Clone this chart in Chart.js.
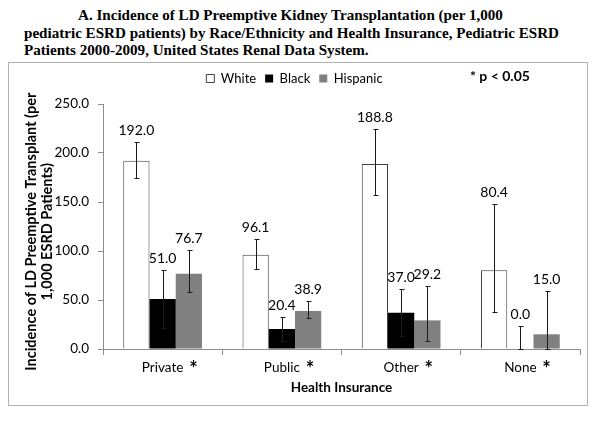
<!DOCTYPE html>
<html>
<head>
<meta charset="utf-8">
<script src="https://cdn.jsdelivr.net/npm/chart.js@4.4.1/dist/chart.umd.min.js"></script>
<style>
    body { margin: 0; background: #fff; width: 600px; height: 424px; position: relative; overflow: hidden; }
    #title { position: absolute; left: 24px; top: 7px; font: bold 15.1px "Liberation Serif", serif; line-height: 17.5px; white-space: nowrap; color: #000; }
    #title .first { padding-left: 54px; }
    #box { position: absolute; left: 8px; top: 62px; width: 578px; height: 342px; border: 1px solid #b3b3b3; }
    #myChart { position: absolute; left: 0; top: 0; }
</style>
</head>
<body>
<div id="title">
    <div class="first">A. Incidence of LD Preemptive Kidney Transplantation (per 1,000</div>
    <div>pediatric ESRD patients) by Race/Ethnicity and Health Insurance, Pediatric ESRD</div>
    <div>Patients 2000-2009, United States Renal Data System.</div>
</div>
<div id="box"><canvas id="myChart" width="578" height="342"></canvas></div>

<script>
// data
var categories = ['Private', 'Public', 'Other', 'None'];
var significant = [true, true, true, true];   // "*" after the label

var white = [192.0, 96.1, 188.8, 80.4];
var black = [51.0, 20.4, 37.0, 0.0];
var hispanic = [76.7, 38.9, 29.2, 15.0];

// 95% CI ends
var whiteLow = [174.4, 81.3, 156.9, 37.4];
var whiteHigh = [211.2, 112.6, 225.0, 147.5];
var blackLow = [21.0, 8.0, 13.0, 0.0];
var blackHigh = [81.0, 32.7, 61.0, 23.0];
var hispanicLow = [58.0, 31.4, 8.4, 0.0];
var hispanicHigh = [100.9, 49.3, 64.4, 59.4];

var yTicks = [0, 50, 100, 150, 200, 250];

var errLow = [whiteLow, blackLow, hispanicLow];
var errHigh = [whiteHigh, blackHigh, hispanicHigh];

Chart.defaults.font.family = 'Lato';
Chart.defaults.color = '#000';

// legend a bit taller so the plot starts lower
var legendSpace = {
    id: 'legendSpace',
    beforeInit: function (chart) {
        var fit = chart.legend.fit;
        chart.legend.fit = function () {
            fit.bind(chart.legend)();
            this.height += 9;
        };
    }
};

var errorBars = {
    id: 'errorBars',
    afterDatasetsDraw: function (chart) {
        var ctx = chart.ctx;
        var y = chart.scales.y;
        ctx.save();
        ctx.strokeStyle = '#1a1a1a';
        ctx.lineWidth = 1;
        ctx.font = '14px Lato';
        ctx.fillStyle = '#000';
        ctx.textAlign = 'center';
        ctx.textBaseline = 'middle';
        chart.data.datasets.forEach(function (ds, i) {
            var meta = chart.getDatasetMeta(i);
            meta.data.forEach(function (bar, j) {
                var x = Math.round(bar.x) + 0.5;
                var hi = Math.round(y.getPixelForValue(errHigh[i][j])) + 0.5;
                var lo = Math.round(y.getPixelForValue(errLow[i][j])) + 0.5;
                ctx.beginPath();
                ctx.moveTo(x, hi); ctx.lineTo(x, lo);
                ctx.moveTo(x - 2, hi); ctx.lineTo(x + 3, hi);
                ctx.moveTo(x - 2, lo); ctx.lineTo(x + 3, lo);
                ctx.stroke();
                ctx.fillText(ds.data[j].toFixed(1), bar.x, hi - 12);
            });
        });
        ctx.restore();
    }
};

var stars = {
    id: 'stars',
    afterDraw: function (chart) {
        var ctx = chart.ctx;
        var xs = chart.scales.x;
        var axisY = chart.chartArea.bottom;
        ctx.save();
        ctx.fillStyle = '#000';
        ctx.font = '13.5px Lato';
        var widths = categories.map(function (c) { return ctx.measureText(c).width; });
        ctx.font = 'bold 20px Lato';
        ctx.textAlign = 'center';
        ctx.textBaseline = 'middle';
        categories.forEach(function (c, i) {
            if (!significant[i]) return;
            ctx.fillText('*', xs.getPixelForValue(i) + widths[i] / 2 + 10, axisY + 21);
        });
        ctx.font = 'bold 14px Lato';
        ctx.textAlign = 'left';
        ctx.fillText('* p < 0.05', 461, 13);
        ctx.restore();
    }
};

var ctx = document.getElementById('myChart');
var myChart = new Chart(ctx, {
    type: 'bar',
    data: {
        labels: categories,
        datasets: [
            { label: 'White', data: white, backgroundColor: '#ffffff', borderColor: '#404040', borderWidth: 1 },
            { label: 'Black', data: black, backgroundColor: '#000000', borderColor: '#000000', borderWidth: 0 },
            { label: 'Hispanic', data: hispanic, backgroundColor: '#808080', borderColor: '#808080', borderWidth: 0 }
        ]
    },
    options: {
        responsive: false,
        animation: false,
        datasets: { bar: { barPercentage: 1, categoryPercentage: 0.66 } },
        layout: { padding: { top: 0, right: 7, bottom: 0, left: 0 } },
        plugins: {
            legend: {
                position: 'top',
                labels: { boxWidth: 8, boxHeight: 8, padding: 9, font: { size: 13 }, color: '#000' }
            },
            tooltip: { enabled: false }
        },
        scales: {
            x: {
                afterFit: function (scale) { scale.height = 56; },
                grid: { drawOnChartArea: false, drawTicks: true, tickLength: 6, color: '#8c8c8c', offset: true },
                border: { color: '#8c8c8c' },
                ticks: { font: { size: 13.5 }, color: '#000', padding: 5 },
                title: { display: true, text: 'Health Insurance', font: { size: 13.5, weight: 'bold' }, color: '#000', padding: { top: 0, bottom: 9 } }
            },
            y: {
                min: 0,
                max: 250,
                afterFit: function (scale) { scale.width = 94; },
                afterBuildTicks: function (scale) { scale.ticks = yTicks.map(function (v) { return { value: v }; }); },
                grid: { drawOnChartArea: false, drawTicks: true, tickLength: 5, color: '#8c8c8c' },
                border: { color: '#8c8c8c' },
                ticks: {
                    font: { size: 13.5 }, color: '#000', padding: 9,
                    callback: function (v) { return v.toFixed(1); }
                },
                title: {
                    display: true,
                    // trailing spaces push the rotated text a little lower, as in the original
                    text: ['Incidence of LD Preemptive Transplant (per\u00a0\u00a0\u00a0', '1,000 ESRD Patients)\u00a0\u00a0\u00a0'],
                    font: { size: 14.5, weight: 'bold', lineHeight: 1.1 },
                    color: '#000',
                    padding: { top: 14, bottom: 0 }
                }
            }
        }
    },
    plugins: [legendSpace, errorBars, stars]
});
</script>
</body>
</html>
